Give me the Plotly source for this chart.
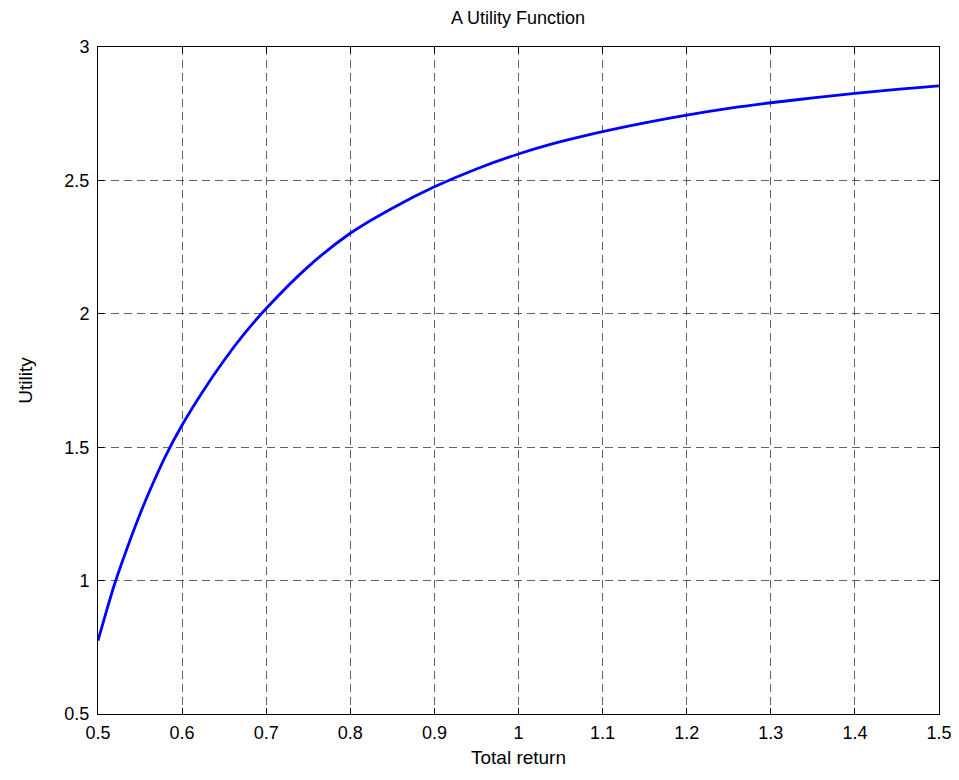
import plotly.graph_objects as go

total_return = [0.50, 0.505, 0.52, 0.535, 0.55, 0.565, 0.58, 0.60, 0.625, 0.65, 0.675,
                0.70, 0.75, 0.80, 0.85, 0.90, 0.95, 1.00, 1.05, 1.10, 1.15, 1.20,
                1.25, 1.30, 1.35, 1.40, 1.45, 1.50]
utility = [0.775, 0.83, 0.99, 1.125, 1.25, 1.362, 1.465, 1.583, 1.711, 1.826, 1.929,
           2.02, 2.177, 2.302, 2.396, 2.476, 2.543, 2.599, 2.645, 2.683, 2.716, 2.745,
           2.77, 2.791, 2.809, 2.826, 2.841, 2.854]

x_ticks = [0.5, 0.6, 0.7, 0.8, 0.9, 1.0, 1.1, 1.2, 1.3, 1.4, 1.5]
x_tick_labels = ["0.5", "0.6", "0.7", "0.8", "0.9", "1", "1.1", "1.2", "1.3", "1.4", "1.5"]
y_ticks = [0.5, 1.0, 1.5, 2.0, 2.5, 3.0]
y_tick_labels = ["0.5", "1", "1.5", "2", "2.5", "3"]

FONT = "Liberation Sans, Arial, Helvetica, sans-serif"

fig = go.Figure()
fig.add_trace(go.Scatter(
    x=total_return, y=utility, mode="lines",
    line=dict(color="rgb(0,0,255)", width=2.8, shape="spline", smoothing=1.0),
    showlegend=False, hoverinfo="x+y",
))

axis_common = dict(
    showline=True, linecolor="black", linewidth=1, mirror="ticks",
    ticks="inside", ticklen=6, tickcolor="black", tickwidth=1,
    showgrid=True, gridcolor="rgba(70,70,70,0.85)", gridwidth=1,
    griddash="8px,5px", zeroline=False, automargin=False,
    ticklabeloverflow="allow",
    tickfont=dict(family=FONT, size=18, color="black"),
)

fig.update_layout(
    width=943, height=764,
    margin=dict(l=90, r=12, t=39, b=58),
    paper_bgcolor="white", plot_bgcolor="white",
    title=dict(text="A Utility Function", x=510 / 943, xanchor="center",
               y=1 - 3 / 764, yanchor="top",
               font=dict(family=FONT, size=18, color="black")),
    xaxis=dict(range=[0.5, 1.5], tickvals=x_ticks, ticktext=x_tick_labels,
               title=dict(text="Total return", standoff=9,
                          font=dict(family=FONT, size=19, color="black")),
               ticklabelstandoff=2,
               **axis_common),
    yaxis=dict(range=[0.5, 3.0], tickvals=y_ticks, ticktext=y_tick_labels,
               title=dict(text="Utility", standoff=26,
                          font=dict(family=FONT, size=19, color="black")),
               ticklabelstandoff=4,
               **axis_common),
)

fig.write_html("out.html")
